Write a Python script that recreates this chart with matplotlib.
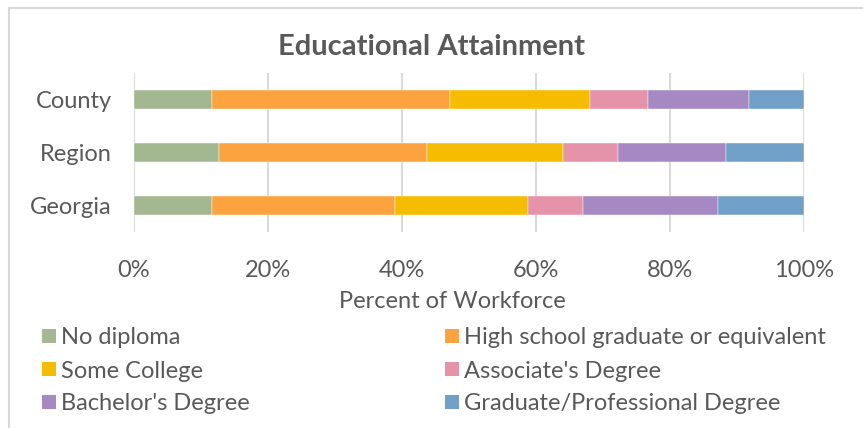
import matplotlib.pyplot as plt
from matplotlib.lines import Line2D
from matplotlib.patches import Rectangle
from matplotlib.ticker import PercentFormatter

plt.rcParams["font.family"] = ["Lato", "DejaVu Sans"]

GRAY = "#595959"
W, H = 863, 428

regions = ["Georgia", "Region", "County"]
categories = [
    "No diploma",
    "High school graduate or equivalent",
    "Some College",
    "Associate's Degree",
    "Bachelor's Degree",
    "Graduate/Professional Degree",
]
colors = ["#a3b891", "#fca33f", "#f6bd00", "#e593a8", "#a688c3", "#70a0c8"]

# percent of workforce, order: Georgia, Region, County
no_diploma = [11.7, 12.7, 11.7]
high_school = [27.3, 31.0, 35.5]
some_college = [19.8, 20.4, 20.9]
associate = [8.2, 8.1, 8.6]
bachelor = [20.2, 16.1, 15.1]
graduate = [12.8, 11.7, 8.2]
series = [no_diploma, high_school, some_college, associate, bachelor, graduate]

fig = plt.figure(figsize=(W / 100, H / 100), dpi=100)

# chart frame (only top and left edges fall inside the picture)
fig.lines.append(Line2D([9 / W, 1], [1 - 8 / H] * 2, transform=fig.transFigure,
                        color="#d9d9d9", lw=1.5))
fig.lines.append(Line2D([9 / W] * 2, [0, 1 - 8 / H], transform=fig.transFigure,
                        color="#d9d9d9", lw=1.5))

ax = fig.add_axes([134 / W, 1 - 232 / H, 670 / W, 159 / H])

left = [0.0] * len(regions)
for name, vals, c in zip(categories, series, colors):
    ax.barh(regions, vals, left=left, height=0.34, color=c, label=name,
            zorder=3, edgecolor="white", linewidth=0.3)
    left = [l + v for l, v in zip(left, vals)]

ax.set_xlim(0, 100)
ax.set_ylim(-0.5, 2.5)
ax.set_xticks([0, 20, 40, 60, 80, 100])
ax.xaxis.set_major_formatter(PercentFormatter(xmax=100, decimals=0))
ax.grid(axis="x", color="#d9d9d9", lw=1.5, zorder=0)
for s in ax.spines.values():
    s.set_visible(False)
ax.tick_params(length=0, labelsize=17, labelcolor=GRAY)
ax.tick_params(axis="x", pad=20)
ax.tick_params(axis="y", pad=16)
ax.set_xlabel("Percent of Workforce", fontsize=17, color=GRAY, labelpad=7,
              x=0.475)

fig.text(0.5, 1 - 47 / H, "Educational Attainment", ha="center", va="center",
         fontsize=21, fontweight="bold", color=GRAY)

# legend drawn in two columns
col_x = [42, 445]
row_y = [336, 369, 402]
for i, (name, c) in enumerate(zip(categories, colors)):
    x = col_x[i % 2]
    y = row_y[i // 2]
    fig.patches.append(
        Rectangle((x / W, 1 - (y + 7) / H), 14 / W, 14 / H,
                  transform=fig.transFigure, facecolor=c, edgecolor="none")
    )
    fig.text((x + 19) / W, 1 - (y + 2) / H, name, ha="left", va="center",
             fontsize=17, color=GRAY)

fig.savefig("out.png", dpi=100)
